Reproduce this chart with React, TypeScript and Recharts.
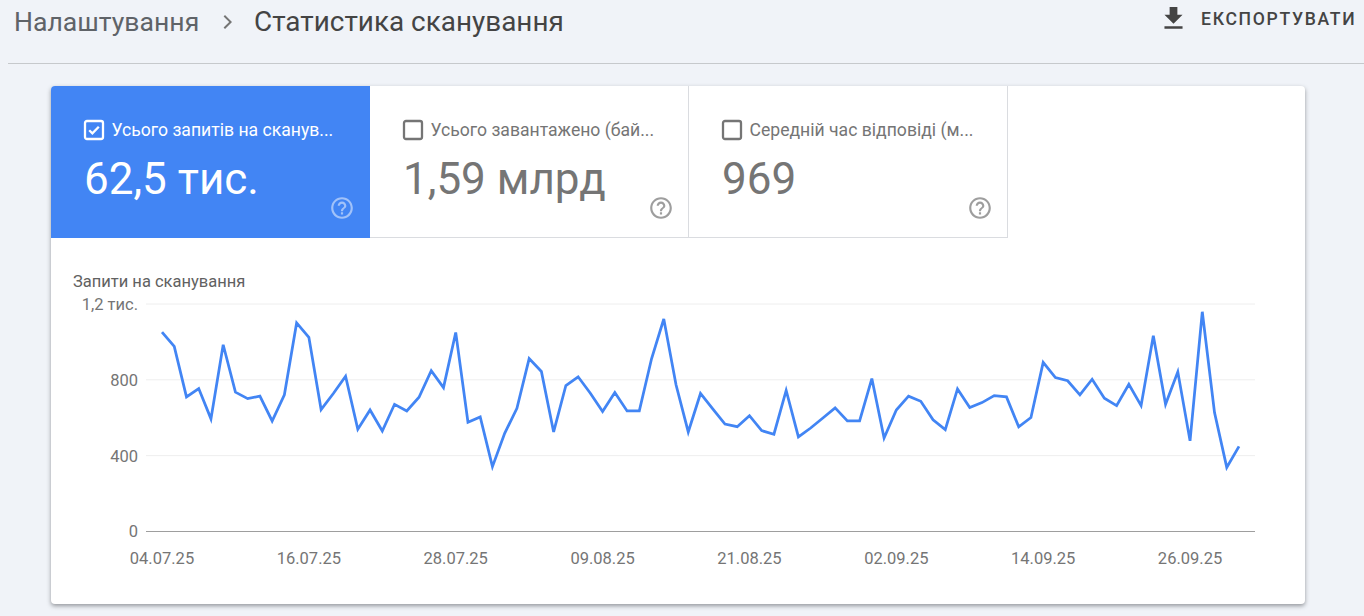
import { LineChart, Line, XAxis, YAxis, CartesianGrid } from "recharts";

const dates = [
  "04.07.25", "05.07.25", "06.07.25", "07.07.25", "08.07.25", "09.07.25", "10.07.25", "11.07.25", "12.07.25", "13.07.25",
  "14.07.25", "15.07.25", "16.07.25", "17.07.25", "18.07.25", "19.07.25", "20.07.25", "21.07.25", "22.07.25", "23.07.25",
  "24.07.25", "25.07.25", "26.07.25", "27.07.25", "28.07.25", "29.07.25", "30.07.25", "31.07.25", "01.08.25", "02.08.25",
  "03.08.25", "04.08.25", "05.08.25", "06.08.25", "07.08.25", "08.08.25", "09.08.25", "10.08.25", "11.08.25", "12.08.25",
  "13.08.25", "14.08.25", "15.08.25", "16.08.25", "17.08.25", "18.08.25", "19.08.25", "20.08.25", "21.08.25", "22.08.25",
  "23.08.25", "24.08.25", "25.08.25", "26.08.25", "27.08.25", "28.08.25", "29.08.25", "30.08.25", "31.08.25", "01.09.25",
  "02.09.25", "03.09.25", "04.09.25", "05.09.25", "06.09.25", "07.09.25", "08.09.25", "09.09.25", "10.09.25", "11.09.25",
  "12.09.25", "13.09.25", "14.09.25", "15.09.25", "16.09.25", "17.09.25", "18.09.25", "19.09.25", "20.09.25", "21.09.25",
  "22.09.25", "23.09.25", "24.09.25", "25.09.25", "26.09.25", "27.09.25", "28.09.25", "29.09.25", "30.09.25",
];

const requests = [
  1052, 976, 710, 754, 594, 985, 735, 701, 714, 583,
  721, 1100, 1024, 643, 728, 819, 539, 641, 530, 671,
  636, 708, 848, 759, 1050, 576, 604, 342, 518, 650,
  912, 844, 525, 770, 816, 729, 633, 733, 636, 636,
  911, 1121, 774, 525, 728, 647, 567, 553, 611, 532,
  513, 744, 499, 546, 599, 652, 583, 583, 807, 493,
  641, 714, 687, 589, 537, 752, 654, 680, 717, 710,
  552, 601, 892, 812, 795, 721, 803, 703, 664, 777,
  664, 1033, 671, 842, 478, 1159, 627, 338, 449,
];

const xTicks = ["04.07.25", "16.07.25", "28.07.25", "09.08.25", "21.08.25", "02.09.25", "14.09.25", "26.09.25"];
const yTicks = [0, 400, 800, 1200];

const chartData = dates.map((date, i) => ({ date, requests: requests[i] }));

const font = "Roboto, sans-serif";

function HelpIcon({ color }: { color: string }) {
  return (
    <svg width="26" height="26" viewBox="0 0 24 24" fill={color}>
      <path d="M11 18h2v-2h-2v2zm1-16C6.48 2 2 6.48 2 12s4.48 10 10 10 10-4.48 10-10S17.52 2 12 2zm0 18c-4.41 0-8-3.59-8-8s3.59-8 8-8 8 3.59 8 8-3.59 8-8 8zm0-14c-2.21 0-4 1.79-4 4h2c0-1.1.9-2 2-2s2 .9 2 2c0 2-3 1.75-3 5h2c0-2.25 3-2.5 3-5 0-2.21-1.79-4-4-4z" />
    </svg>
  );
}

function Tile({ left, label, value, active }: { left: number; label: string; value: string; active?: boolean }) {
  const fg = active ? "#fff" : "#757575";
  return (
    <div
      style={{
        position: "absolute",
        left,
        top: 0,
        width: 319,
        height: 152,
        boxSizing: "border-box",
        background: active ? "#4285f4" : "#fff",
        borderRight: active ? "none" : "1px solid #dadce0",
        borderBottom: active ? "none" : "1px solid #dadce0",
      }}
    >
      <svg width="24" height="24" viewBox="0 0 24 24" style={{ position: "absolute", left: 31, top: 32 }}>
        <rect x="3" y="3" width="18" height="18" rx="2" fill="none" stroke={fg} strokeWidth="2.3" />
        {active && <path d="M7.2 12.2l3.2 3.2 6.4-6.6" fill="none" stroke={fg} strokeWidth="2.3" />}
      </svg>
      <div
        style={{
          position: "absolute",
          left: 60.5,
          top: 34,
          width: 250,
          fontSize: 17.6,
          lineHeight: "20px",
          color: fg,
          whiteSpace: "nowrap",
        }}
      >
        {label}
      </div>
      <div
        style={{
          position: "absolute",
          left: 33,
          top: 66,
          fontSize: 44,
          lineHeight: "54px",
          color: fg,
          whiteSpace: "nowrap",
        }}
      >
        {value}
      </div>
      <div style={{ position: "absolute", left: 278, top: 109, width: 26, height: 26, opacity: active ? 0.5 : 1 }}>
        <HelpIcon color={active ? "#fff" : "#9e9e9e"} />
      </div>
    </div>
  );
}

export default function App() {
  return (
    <div
      style={{
        position: "absolute",
        left: 0,
        top: 0,
        width: 1364,
        height: 616,
        overflow: "hidden",
        background: "#f0f3f8",
        fontFamily: font,
      }}
    >
      <div style={{ position: "absolute", left: 14, top: 7, fontSize: 26.6, lineHeight: "30px", color: "#5f6368", whiteSpace: "nowrap" }}>
        Налаштування
      </div>
      <svg width="24" height="24" viewBox="0 0 24 24" style={{ position: "absolute", left: 215, top: 10 }} fill="#757575">
        <path d="M8.6 6.4L10 5l7 7-7 7-1.4-1.4 5.6-5.6z" />
      </svg>
      <div style={{ position: "absolute", left: 254, top: 7, fontSize: 27.9, lineHeight: "30px", color: "#444", whiteSpace: "nowrap" }}>
        Статистика сканування
      </div>
      <svg width="31" height="31" viewBox="0 0 24 24" style={{ position: "absolute", left: 1158, top: 3 }} fill="#444">
        <path d="M19 9h-4V3H9v6H5l7 7 7-7zM5 18v2h14v-2H5z" />
      </svg>
      <div
        style={{
          position: "absolute",
          left: 1201,
          top: 9,
          fontSize: 17.6,
          lineHeight: "20px",
          fontWeight: 500,
          letterSpacing: 1.7,
          color: "#444",
          whiteSpace: "nowrap",
        }}
      >
        ЕКСПОРТУВАТИ
      </div>
      <div style={{ position: "absolute", left: 8, right: 0, top: 63, height: 1, background: "#c6c9cc" }} />

      <div
        style={{
          position: "absolute",
          left: 51,
          top: 86,
          width: 1254,
          height: 518,
          borderRadius: 4,
          background: "#fff",
          boxShadow: "0 2px 4px rgba(60,64,67,.5)",
        }}
      >
        <div style={{ position: "absolute", inset: 0, borderRadius: 4, overflow: "hidden" }}>
          <Tile left={0} label="Усього запитів на сканув..." value="62,5 тис." active />
          <Tile left={319} label="Усього завантажено (бай..." value="1,59 млрд" />
          <Tile left={638} label="Середній час відповіді (м..." value="969" />
          <div style={{ position: "absolute", left: 22, top: 186, fontSize: 16.5, lineHeight: "20px", color: "#616161", whiteSpace: "nowrap" }}>
            Запити на сканування
          </div>
          <div style={{ position: "absolute", left: 0, top: 152 }}>
            <LineChart
              width={1254}
              height={366}
              data={chartData}
              margin={{ top: 66, right: 50, bottom: 42.5, left: 0 }}
            >
              <CartesianGrid vertical={false} stroke="#eeeeee" strokeWidth={1} />
              <XAxis
                dataKey="date"
                ticks={xTicks}
                interval={0}
                padding={{ left: 16, right: 16 }}
                axisLine={{ stroke: "#9e9e9e" }}
                tickLine={false}
                tickMargin={15}
                tick={{ fill: "#757575", fontSize: 16.5, fontFamily: font }}
              />
              <YAxis
                width={95}
                domain={[0, 1200]}
                ticks={yTicks}
                axisLine={false}
                tickLine={false}
                tickMargin={2}
                tickFormatter={(v: number) => (v === 1200 ? "1,2 тис." : String(v))}
                tick={{ fill: "#757575", fontSize: 16.5, fontFamily: font }}
              />
              <Line
                type="linear"
                dataKey="requests"
                stroke="#4285f4"
                strokeWidth={2.75}
                dot={false}
                isAnimationActive={false}
              />
            </LineChart>
          </div>
        </div>
      </div>
    </div>
  );
}
